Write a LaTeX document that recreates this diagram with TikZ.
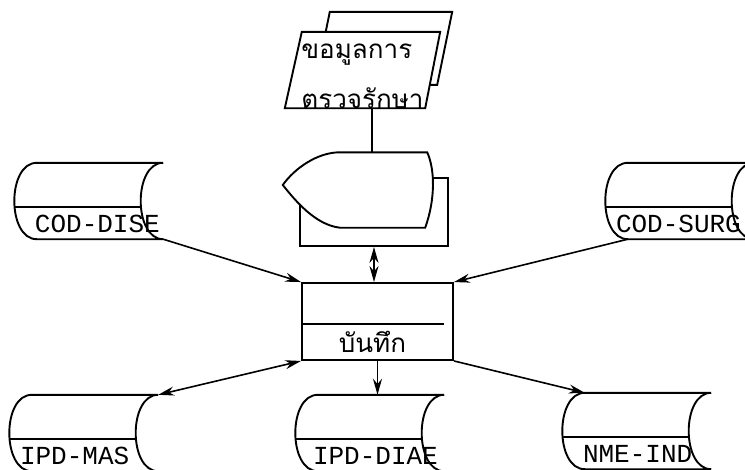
\documentclass[tikz,border=0pt]{standalone}
\usepackage{fontspec}
\setmonofont{Liberation Mono}
\newfontfamily\thaifont[Script=Thai]{Loma}
\usetikzlibrary{arrows.meta,positioning,calc,backgrounds}

% stored data outline round a named node
\newcommand{\storeoutline}[1]{%
  \draw[outline] (#1.north east) -- (#1.north west)
    .. controls ([xshift=-30pt]#1.north west) and ([xshift=-30pt]#1.south west) .. (#1.south west)
    -- (#1.south east)
    .. controls ([xshift=-30pt]#1.south east) and ([xshift=-30pt]#1.north east) .. (#1.north east);
  \draw[outline] ([xshift=-22pt,yshift=-44pt]#1.north west) -- ([xshift=-22pt,yshift=-44pt]#1.north east);
}

\tikzset{
  outline/.style={line width=1.9pt},
  storebox/.style={inner sep=0pt, text width=126pt, text height=69pt, text depth=7pt, font=\ttfamily\fontsize{26}{30}\selectfont},
  docbox/.style={inner sep=0pt, minimum width=155pt, text height=26pt, text depth=50pt, font=\thaifont\fontsize{26}{28}\selectfont},
  procbox/.style={draw, line width=1.9pt, inner sep=0pt, minimum width=151pt, text height=69pt, text depth=8pt, font=\thaifont\fontsize{26}{30}\selectfont},
  panelbox/.style={draw, line width=1.9pt, fill=white, minimum width=148pt, minimum height=68pt, inner sep=0pt},
  dispbox/.style={minimum width=150pt, minimum height=75pt, inner sep=0pt},
  arr/.style={line width=1.6pt, -{Stealth[length=16pt,width=9pt]}},
  darr/.style={line width=1.6pt, {Stealth[length=16pt,width=9pt]}-{Stealth[length=16pt,width=9pt]}}
}

\begin{document}
\begin{tikzpicture}[x=1pt, y=-1pt]
\useasboundingbox (0,0) rectangle (745,469);
\clip (0,0) rectangle (745,469);

% input document
\node[docbox] (doc) at (362.5,70) {\begin{tabular}[t]{@{}l@{}}ขอมูลการ\\[21pt]ตรวจรักษา\end{tabular}};
\begin{scope}[on background layer]
  \draw[outline, fill=white] ($(doc.north west)+(45,-20)$) -- ($(doc.north east)+(12,-20)$) -- ($(doc.north east)+(-3,53)$) -- ($(doc.south west)+(30,-23)$) -- cycle;
  \draw[outline, fill=white] ($(doc.north west)+(17,0)$) -- (doc.north east) -- ($(doc.south east)+(-15,0)$) -- (doc.south west) -- cycle;
\end{scope}

% display over a panel
\node[panelbox] (panel) at (374,212) {};
\node[dispbox] (disp) at (358,190) {};
\draw[outline, fill=white] ($(disp.north west)+(57,0)$) -- ($(disp.north east)+(-6,0)$)
  .. controls ($(disp.east)+(2,-20)$) and ($(disp.east)+(2,10)$) .. ($(disp.south east)+(-8,0)$)
  -- ($(disp.south west)+(57,0)$)
  .. controls ($(disp.south west)+(32,-3)$) and ($(disp.west)+(12,10)$) .. ($(disp.west)+(0,-5)$)
  .. controls ($(disp.west)+(12,-22)$) and ($(disp.north west)+(35,0)$) .. ($(disp.north west)+(57,0)$) -- cycle;

% process
\node[procbox] (rec) at (377.5,321.5) {\hspace*{-10pt}บันทึก};
\draw[outline] ([yshift=-42pt]rec.north west) -- ([xshift=-10pt,yshift=-42pt]rec.north east);

% files
\node[storebox] (dise) at (100,201) {\hspace*{-2pt}COD-DISE};
\node[storebox] (surg) at (691,201) {\hspace*{-12pt}COD-SURG};
\node[storebox] (mas) at (95,433) {\hspace*{-12pt}IPD-MAS};
\node[storebox] (diae) at (381,433) {\hspace*{-5pt}IPD-DIAE};
\node[storebox] (nme) at (648,431) {\hspace*{-2pt}NME-IND};
\foreach \s in {dise,surg,mas,diae,nme} {\storeoutline{\s}}

% connectors
\draw[outline] ([xshift=9.5pt]doc.south) -- ([xshift=9.5pt]doc.south |- disp.north);
\draw[darr] (panel.south) -- (panel.south |- rec.north);
\draw[arr] (dise.south east) -- (rec.north west);
\draw[arr] (surg.south west) -- (rec.north east);
\draw[darr] (rec.south west) -- (mas.north east);
\draw[arr] (rec.south) -- (rec.south |- diae.north);
\draw[arr] (rec.south east) -- (nme.north west);
\end{tikzpicture}
\end{document}
